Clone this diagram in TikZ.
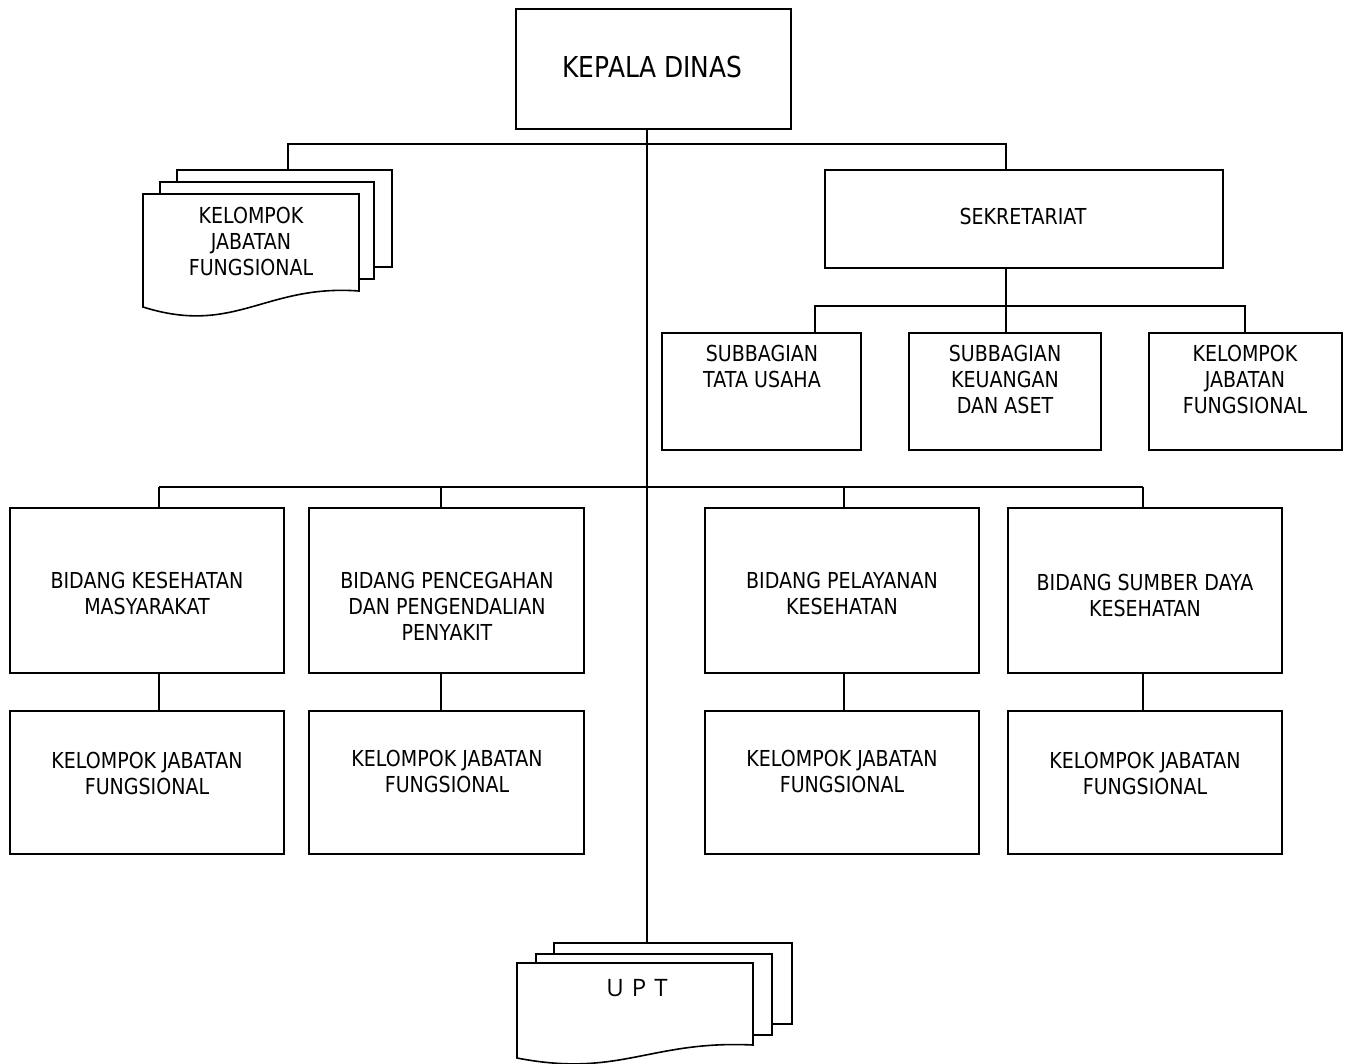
\documentclass[tikz,border=0pt]{standalone}
\usepackage{fontspec}
\setmainfont[FakeStretch=0.865]{DejaVu Sans}
\newfontfamily\uptfont{Open Sans}
\begin{document}
\begin{tikzpicture}[x=1pt,y=-1pt,
  box/.style={draw,line width=1.6pt,rectangle,inner sep=0pt,outer sep=0pt},
  txt/.style={align=center,inner sep=0pt,font=\fontsize{22}{26}\selectfont},
  con/.style={line width=1.6pt},
  page/.style={draw,fill=white,line width=1.6pt,line join=miter}]
\useasboundingbox (0,0) rectangle (1346,1064);

% boxes
\node[box,minimum width=275pt,minimum height=120pt] (kd) at (653.5,69) {};
\node[txt,font=\fontsize{28.8}{32}\selectfont] (kdT) at (652.5,67.5) {KEPALA DINAS};

\node[box,minimum width=398pt,minimum height=98pt] (sek) at (1024,219) {};
\node[txt] (sekT) at (1023,216) {SEKRETARIAT};

\node[box,minimum width=199pt,minimum height=117pt] (sub1) at (761.5,391.5) {};
\node[box,minimum width=192pt,minimum height=117pt] (sub2) at (1005,391.5) {};
\node[box,minimum width=193pt,minimum height=117pt] (sub3) at (1245.5,391.5) {};
\node[txt] (sub1T) at (762,366) {SUBBAGIAN\\TATA USAHA};
\node[txt] (sub2T) at (1005,379) {SUBBAGIAN\\KEUANGAN\\DAN ASET};
\node[txt] (sub3T) at (1245,379.5) {KELOMPOK\\JABATAN\\FUNGSIONAL};

\node[box,minimum width=274pt,minimum height=165pt] (b1) at (147,590.5) {};
\node[box,minimum width=275pt,minimum height=165pt] (b2) at (446.5,590.5) {};
\node[box,minimum width=274pt,minimum height=165pt] (b3) at (842,590.5) {};
\node[box,minimum width=274pt,minimum height=165pt] (b4) at (1145,590.5) {};
\node[txt] (b1T) at (147,593) {BIDANG KESEHATAN\\MASYARAKAT};
\node[txt] (b2T) at (447,606) {BIDANG PENCEGAHAN\\DAN PENGENDALIAN\\PENYAKIT};
\node[txt] (b3T) at (842,593) {BIDANG PELAYANAN\\KESEHATAN};
\node[txt] (b4T) at (1145,595) {BIDANG SUMBER DAYA\\KESEHATAN};

\node[box,minimum width=274pt,minimum height=143pt] (k1) at (147,782.5) {};
\node[box,minimum width=275pt,minimum height=143pt] (k2) at (446.5,782.5) {};
\node[box,minimum width=274pt,minimum height=143pt] (k3) at (842,782.5) {};
\node[box,minimum width=274pt,minimum height=143pt] (k4) at (1145,782.5) {};
\node[txt] (k1T) at (147,773) {KELOMPOK JABATAN\\FUNGSIONAL};
\node[txt] (k2T) at (447,771) {KELOMPOK JABATAN\\FUNGSIONAL};
\node[txt] (k3T) at (842,771) {KELOMPOK JABATAN\\FUNGSIONAL};
\node[txt] (k4T) at (1145,773) {KELOMPOK JABATAN\\FUNGSIONAL};

% stacked document: KJF top-left
\draw[page] (177,170) rectangle (392,267);
\draw[page] (160,182) rectangle (374,279);
\draw[page] (143,194) -- (359,194) -- (359,291)
  .. controls (265,284) and (235,336) .. (143,307) -- cycle;
\coordinate (kjfTop) at (288,170);
\node[txt] (kjfT) at (251,241) {KELOMPOK\\JABATAN\\FUNGSIONAL};

% stacked document: UPT
\draw[page] (554,943) rectangle (792,1024);
\draw[page] (536,954) rectangle (772,1035);
\draw[page] (517,963) -- (753,963) -- (753,1045)
  .. controls (650,1040) and (620,1078) .. (517,1058) -- cycle;
\coordinate (uptTop) at (647,943);
\node[inner sep=0pt,font=\uptfont\fontsize{24}{28}\selectfont] (uptT) at (637,988) {U\,\,P\,\,T};

% connectors
\coordinate (bar1) at (647,144);
\coordinate (sekIn) at (1006,170);
\draw[con] (uptTop |- kd.south) -- (uptTop);
\draw[con] (kjfTop) |- (bar1) -| (sekIn);

\coordinate (sbar) at (1006,306);
\coordinate (s1) at (815,333);
\coordinate (s3) at (1245,333);
\draw[con] (sekIn |- sek.south) -- (sekIn |- sub2.north);
\draw[con] (s1) |- (sbar) -| (s3);

\coordinate (c1) at (159,487);
\coordinate (c2) at (441,487);
\coordinate (c3) at (844,487);
\coordinate (c4) at (1143,487);
\draw[con] (c1) -- (c4);
\foreach \i in {1,2,3,4}{
  \draw[con] (c\i) -- (c\i |- b\i.north);
  \draw[con] (c\i |- b\i.south) -- (c\i |- k\i.north);
}
\end{tikzpicture}
\end{document}
